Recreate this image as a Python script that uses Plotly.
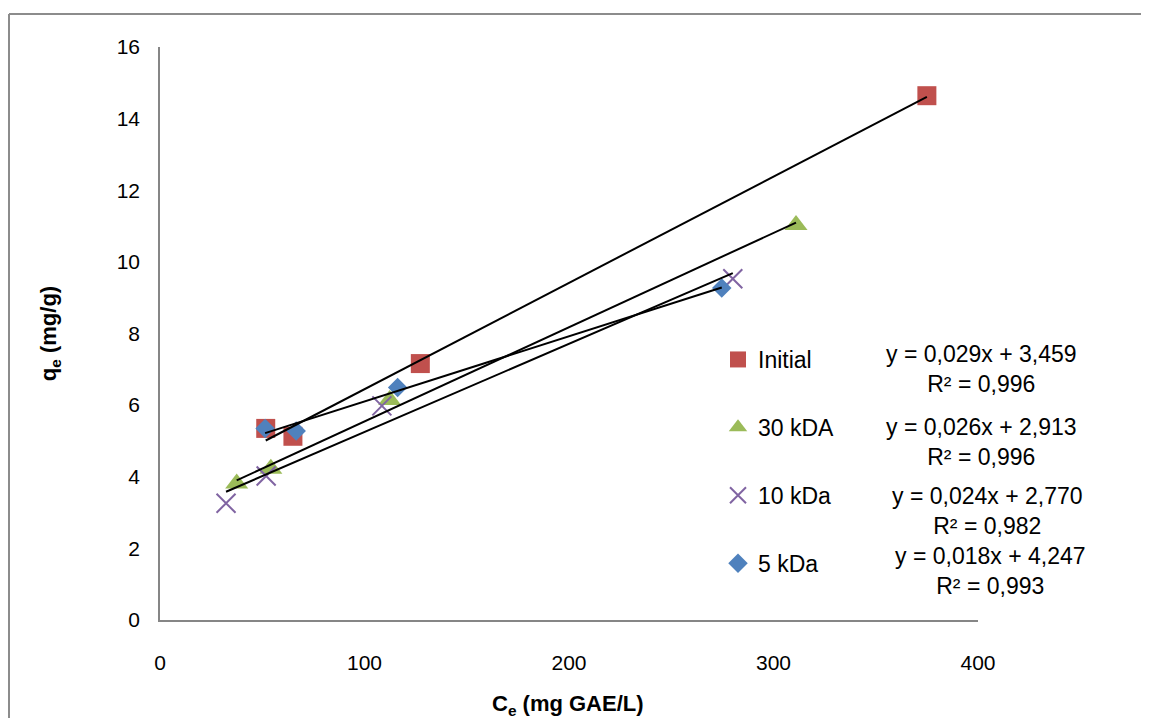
import numpy as np
import plotly.graph_objects as go

# ---- data ----
series_names = ["Initial", "30 kDA", "10 kDa", "5 kDa"]
ce_initial = [51.7, 65.0, 127.3, 375.0]
qe_initial = [5.35, 5.13, 7.16, 14.64]
ce_30kda = [37.5, 54.2, 112.3, 311.0]
qe_30kda = [3.81, 4.22, 6.14, 11.03]
ce_10kda = [32.3, 51.9, 108.5, 280.1]
qe_10kda = [3.26, 4.02, 5.98, 9.53]
ce_5kda = [51.4, 66.6, 116.2, 274.7]
qe_5kda = [5.35, 5.28, 6.49, 9.27]
equations = [
    "y = 0,029x + 3,459<br>R² = 0,996",
    "y = 0,026x + 2,913<br>R² = 0,996",
    "y = 0,024x + 2,770<br>R² = 0,982",
    "y = 0,018x + 4,247<br>R² = 0,993",
]
x_ticks = [0, 100, 200, 300, 400]
y_ticks = [0, 2, 4, 6, 8, 10, 12, 14, 16]
x_title = "<b>C<sub>e</sub> (mg GAE/L)</b>"
y_title = "<b>q<sub>e</sub> (mg/g)</b>"

# ---- styling ----
W, H = 1149, 718          # browser window
BODY = 8                  # default page margin around the plot div
FW, FH = W - 2 * BODY, H - BODY
PL, PT, PW, PH = 160, 47, 818, 573   # plot area in window pixels
FONT = "Arial, Liberation Sans, sans-serif"
colors = ["#C0504D", "#9BBB59", "#8064A2", "#4F81BD"]
symbols = ["square", "triangle-up", "x-thin", "diamond"]
sizes = [19, 20, 19, 15]


def pxx(px):
    return (px - PL) / PW


def pxy(py):
    return (PT + PH - py) / PH


xs_all = [ce_initial, ce_30kda, ce_10kda, ce_5kda]
ys_all = [qe_initial, qe_30kda, qe_10kda, qe_5kda]

fig = go.Figure()

for i, (name, xs, ys) in enumerate(zip(series_names, xs_all, ys_all)):
    marker = dict(color=colors[i], symbol=symbols[i], size=sizes[i])
    if symbols[i] == "x-thin":
        marker["line"] = dict(color=colors[i], width=2)
    fig.add_trace(go.Scatter(
        x=xs, y=ys, mode="markers", name=name, marker=marker,
        legendgroup=name, showlegend=True,
    ))

# linear trendlines (least squares) drawn over each series' x span
for i, (name, xs, ys) in enumerate(zip(series_names, xs_all, ys_all)):
    slope, intercept = np.polyfit(xs, ys, 1)
    xl = np.array([min(xs), max(xs)])
    fig.add_trace(go.Scatter(
        x=xl, y=slope * xl + intercept, mode="lines",
        line=dict(color="black", width=2), showlegend=False,
        hoverinfo="skip",
    ))

# trendline equation labels
eq_pos = [(982, 369), (982, 442), (988, 511), (990, 571)]
annotations = []
for txt, (cx, cy) in zip(equations, eq_pos):
    annotations.append(dict(
        text=txt, x=pxx(cx), y=pxy(cy), xref="paper", yref="paper",
        xanchor="center", yanchor="middle", align="center", showarrow=False,
        font=dict(family=FONT, size=23, color="black"),
    ))
# x-axis title (partly cut by the bottom edge, as in the reference)
annotations.append(dict(
    text=x_title, x=pxx(568), y=pxy(705), xref="paper", yref="paper",
    xanchor="center", yanchor="middle", showarrow=False,
    font=dict(family=FONT, size=22, color="black"),
))

axis_common = dict(
    showgrid=False, zeroline=False, showline=True, linecolor="#868686",
    linewidth=1.5, ticks="", automargin=False,
    tickfont=dict(family=FONT, size=21, color="black"),
)

border = dict(color="#8c8c8c", width=2)

fig.update_layout(
    width=FW, height=FH,
    margin=dict(l=PL - BODY, r=W - PL - PW - BODY, t=PT - BODY,
                b=H - PT - PH, pad=0),
    paper_bgcolor="white", plot_bgcolor="white",
    font=dict(family=FONT, color="black"),
    xaxis=dict(range=[0, 400], tickvals=x_ticks, ticklabelstandoff=23,
               **axis_common),
    yaxis=dict(range=[0, 16], tickvals=y_ticks, ticklabelstandoff=14,
               title=dict(text=y_title,
                          font=dict(family=FONT, size=22), standoff=54),
               **axis_common),
    legend=dict(x=pxx(718), y=pxy(338), xanchor="left", yanchor="top",
                traceorder="grouped", tracegroupgap=35,
                font=dict(family=FONT, size=23, color="black"),
                bgcolor="rgba(0,0,0,0)", itemsizing="trace"),
    annotations=annotations,
    shapes=[
        dict(type="line", xref="paper", yref="paper",
             x0=pxx(BODY + 1), x1=pxx(W + 20), y0=pxy(14), y1=pxy(14),
             line=border, layer="below"),
        dict(type="line", xref="paper", yref="paper",
             x0=pxx(BODY + 1), x1=pxx(BODY + 1), y0=pxy(14), y1=pxy(H + 20),
             line=border, layer="below"),
    ],
    showlegend=True,
)

fig.write_html("out.html")
